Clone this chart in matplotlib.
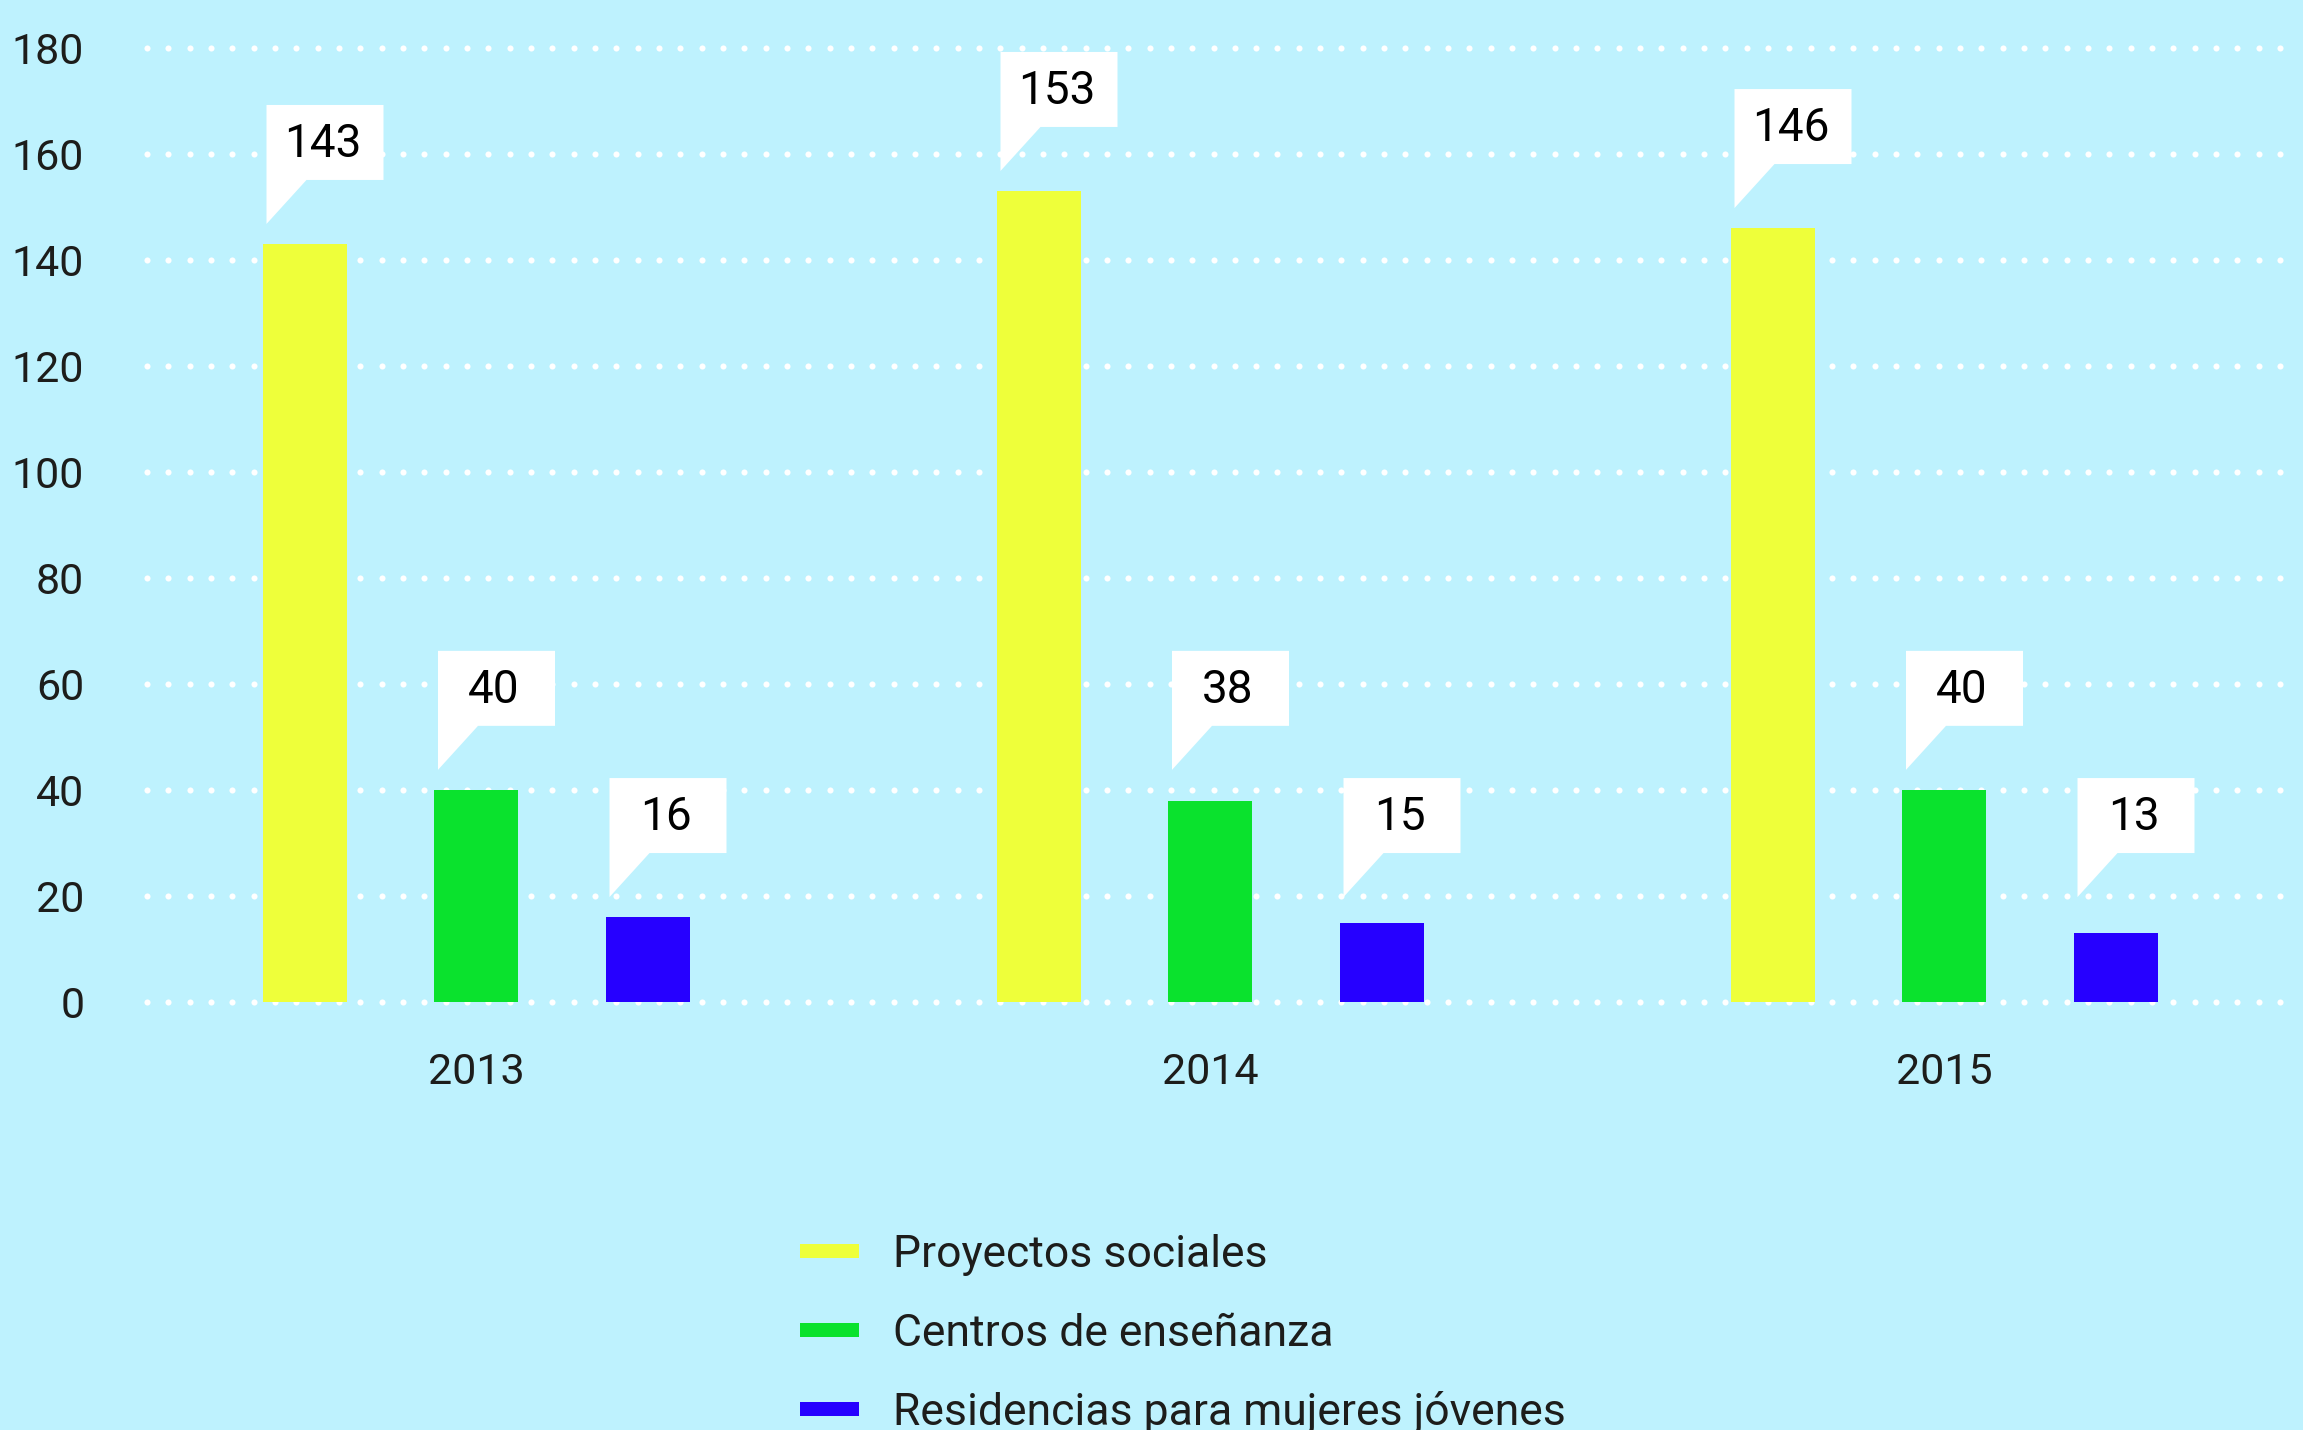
import numpy as np
import matplotlib
matplotlib.use("Agg")
import matplotlib.pyplot as plt
import matplotlib.patches as patches

years = ['2013', '2014', '2015']
series = ['Proyectos sociales', 'Centros de enseñanza', 'Residencias para mujeres jóvenes']
proyectos = [143, 153, 146]
centros = [40, 38, 40]
residencias = [16, 15, 13]
yticks = [0, 20, 40, 60, 80, 100, 120, 140, 160, 180]

values = [proyectos, centros, residencias]
colors = ['#EEFF3A', '#0AE22D', '#2600FF']
bg = '#BEF2FE'
txt = '#1D1D1B'

plt.rcParams['font.family'] = ['Roboto', 'DejaVu Sans']

W, H = 2303, 1430
fig = plt.figure(figsize=(W / 100, H / 100), dpi=100, facecolor=bg)
ax = fig.add_axes([144 / W, 1 - 1002 / H, 2146 / W, 954 / H], facecolor=bg)

unit = 734.0  # px between group centres
xmin = -(476 - 144) / unit
xmax = xmin + 2146 / unit
ax.set_xlim(xmin, xmax)
ax.set_ylim(0, 180)

# pixel -> data units
px_x = (xmax - xmin) / 2146
px_y = 180 / 954

width = 84 * px_x
step = 171.5 * px_x
x = np.arange(len(years))

# dotted grid: 6 px dots every 21.3 px
dots = np.arange(xmin + 3 * px_x, xmax, 21.33 * px_x)
for yv in yticks:
    ax.plot(dots, np.full(len(dots), yv), linestyle='none', marker='o',
            markersize=4.4, markerfacecolor='white', markeredgewidth=0,
            zorder=0, clip_on=False)

for i, (name, vals, col) in enumerate(zip(series, values, colors)):
    xs = x + (i - 1) * step
    bars = ax.bar(xs, vals, width=width, color=col, zorder=2, label=name)
    top = max(vals)
    for b, v in zip(bars, vals):
        # callout bubble; values close to the series max share its height
        base = top if top - v < 5 else v
        x0 = b.get_x() + 4 * px_x
        y0 = base + 3.8
        verts = [(x0, y0),
                 (x0 + 40 * px_x, y0 + 44 * px_y),
                 (x0 + 117 * px_x, y0 + 44 * px_y),
                 (x0 + 117 * px_x, y0 + 119 * px_y),
                 (x0, y0 + 119 * px_y)]
        ax.add_patch(patches.Polygon(verts, closed=True, facecolor='white',
                                     edgecolor='none', zorder=3))
        ax.text(x0 + 56 * px_x, y0 + 80 * px_y, str(v), ha='center',
                va='center', fontsize=33, color='black', zorder=4)

ax.set_yticks(yticks)
ax.set_xticks(x, years)
ax.tick_params(axis='y', length=0, pad=43, labelsize=31, labelcolor=txt)
ax.tick_params(axis='x', length=0, pad=36, labelsize=31, labelcolor=txt)
for s in ax.spines.values():
    s.set_visible(False)

# legend
for i, (name, col) in enumerate(zip(series, colors)):
    yc = 1251 + i * 79
    fig.add_artist(patches.Rectangle((800 / W, 1 - (yc + 7) / H), 59 / W, 14 / H,
                                     transform=fig.transFigure, facecolor=col,
                                     edgecolor='none'))
    fig.text(893 / W, 1 - (yc + 16) / H, name, ha='left', va='baseline',
             fontsize=32, color=txt)

fig.savefig('out.png', dpi=100, facecolor=bg)
